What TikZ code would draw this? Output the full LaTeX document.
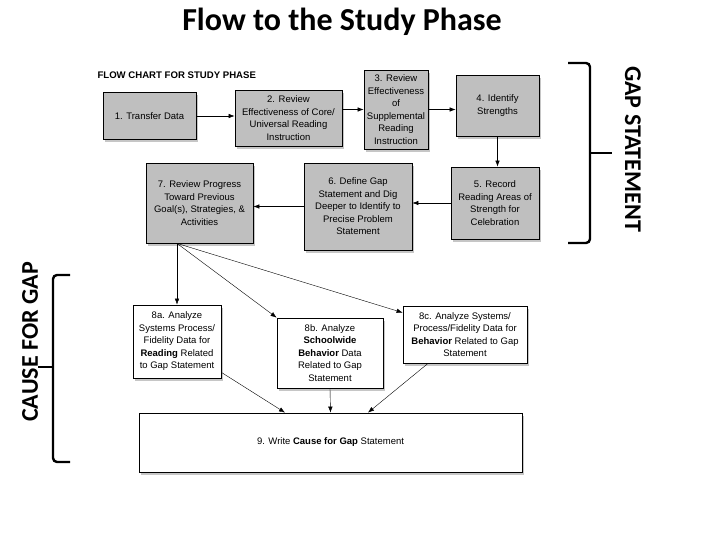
\documentclass[tikz,border=0pt]{standalone}
\usepackage{fontspec}
\setmainfont{Liberation Sans}
\newfontfamily\calibri{Carlito}
\usepackage{tikz}
\usetikzlibrary{arrows.meta,shadows}

\tikzset{
  pas/.style={draw=black, line width=0.8pt, align=center, inner sep=2pt,
    font=\fontsize{9.5}{12.5}\selectfont,
    drop shadow={shadow xshift=1.5pt, shadow yshift=-3pt, opacity=0.45}},
  gris/.style={pas, fill=black!25},
  blanc/.style={pas, fill=white},
  clau/.style={line width=2.4pt, rounded corners=4pt},
}

\begin{document}
\begin{tikzpicture}[x=1pt, y=-1pt, >={Latex[length=6pt,width=4.5pt]}]

\useasboundingbox (0,0) rectangle (720,540);

% Titol
\node[font=\calibri\bfseries\fontsize{32}{36}\selectfont] (titol) at (342,22)
    {Flow to the Study Phase};
\node[font=\bfseries\fontsize{9.6}{11}\selectfont, anchor=west] (capcalera) at (94,75)
    {FLOW CHART FOR STUDY PHASE};

% Fila de dalt
\node[gris, minimum width=93, minimum height=47] (b1) at (149.5,116)
    {1. Transfer Data};
\node[gris, minimum width=107, minimum height=56] (b2) at (288.5,118)
    {2. Review\\Effectiveness of Core/\\Universal Reading\\Instruction};
\node[gris, minimum width=64, minimum height=79] (b3) at (396,109.5)
    {3. Review\\Effectiveness\\of\\Supplemental\\Reading\\Instruction};
\node[gris, minimum width=83, minimum height=61] (b4) at (497.5,105.5)
    {4. Identify\\Strengths};

% Fila del mig
\node[gris, minimum width=88, minimum height=72] (b5) at (495,203)
    {5. Record\\Reading Areas of\\Strength for\\Celebration};
\node[gris, minimum width=108, minimum height=87] (b6) at (358,206.5)
    {6. Define Gap\\Statement and Dig\\Deeper to Identify to\\Precise Problem\\Statement};
\node[gris, minimum width=107, minimum height=80] (b7) at (199.5,203)
    {7. Review Progress\\Toward Previous\\Goal(s), Strategies, \&\\Activities};

% Analisi
\node[blanc, minimum width=88, minimum height=73] (b8a) at (177,341.5)
    {8a. Analyze\\Systems Process/\\Fidelity Data for\\\textbf{Reading} Related\\to Gap Statement};
\node[blanc, minimum width=106, minimum height=70] (b8b) at (330,353)
    {8b. Analyze\\\textbf{Schoolwide}\\\textbf{Behavior} Data\\Related to Gap\\Statement};
\node[blanc, minimum width=124, minimum height=57] (b8c) at (465,334.5)
    {8c. Analyze Systems/\\Process/Fidelity Data for\\\textbf{Behavior} Related to Gap\\Statement};

% Causa
\node[blanc, minimum width=383, minimum height=59] (b9) at (330.5,442.5)
    {9. Write \textbf{Cause for Gap} Statement};

% Fletxes de dalt
\draw[->, semithick] (b1.east) -- (b1.east -| b2.west);
\draw[->, semithick] (b3.west -| b2.east) -- (b3.west);
\draw[->, semithick] (b3.east) -- (b3.east -| b4.west);
\draw[->, semithick] (b4.south) -- (b4.south |- b5.north);
\draw[->, semithick] (b5.west) -- (b5.west -| b6.east);
\draw[->, semithick] (b6.west) -- (b6.west -| b7.east);

% Fletxes cap a l'analisi
\coordinate (s7) at (b7.south -| b8a.north);
\draw[->] (s7) -- (b8a.north);
\draw[->] (s7) -- (b8b.north west);
\draw[->] (s7) -- ([yshift=-7pt]b8c.north west);

% Fletxes cap a 9
\draw[->] ([yshift=6pt]b8a.south east) -- ([xshift=-45.5pt]b9.north);
\draw[->] (b8b.south) -- (b9.north);
\draw[->] ([xshift=-37pt]b8c.south) -- ([xshift=37.5pt]b9.north);

% Claus
\draw[clau] (568,63) -- (590,63) -- (590,243) -- (568,243);
\draw[line width=2.4pt] (590,153) -- (612,153);
\node[rotate=-90, font=\calibri\bfseries\fontsize{24}{28}\selectfont] (gap) at (633,149)
    {GAP STATEMENT};

\draw[clau] (70,275) -- (53,275) -- (53,462) -- (70,462);
\draw[line width=2.4pt] (38,367) -- (53,367);
\node[rotate=90, font=\calibri\bfseries\fontsize{24}{28}\selectfont] (causa) at (30,342)
    {CAUSE FOR GAP};

\end{tikzpicture}
\end{document}
